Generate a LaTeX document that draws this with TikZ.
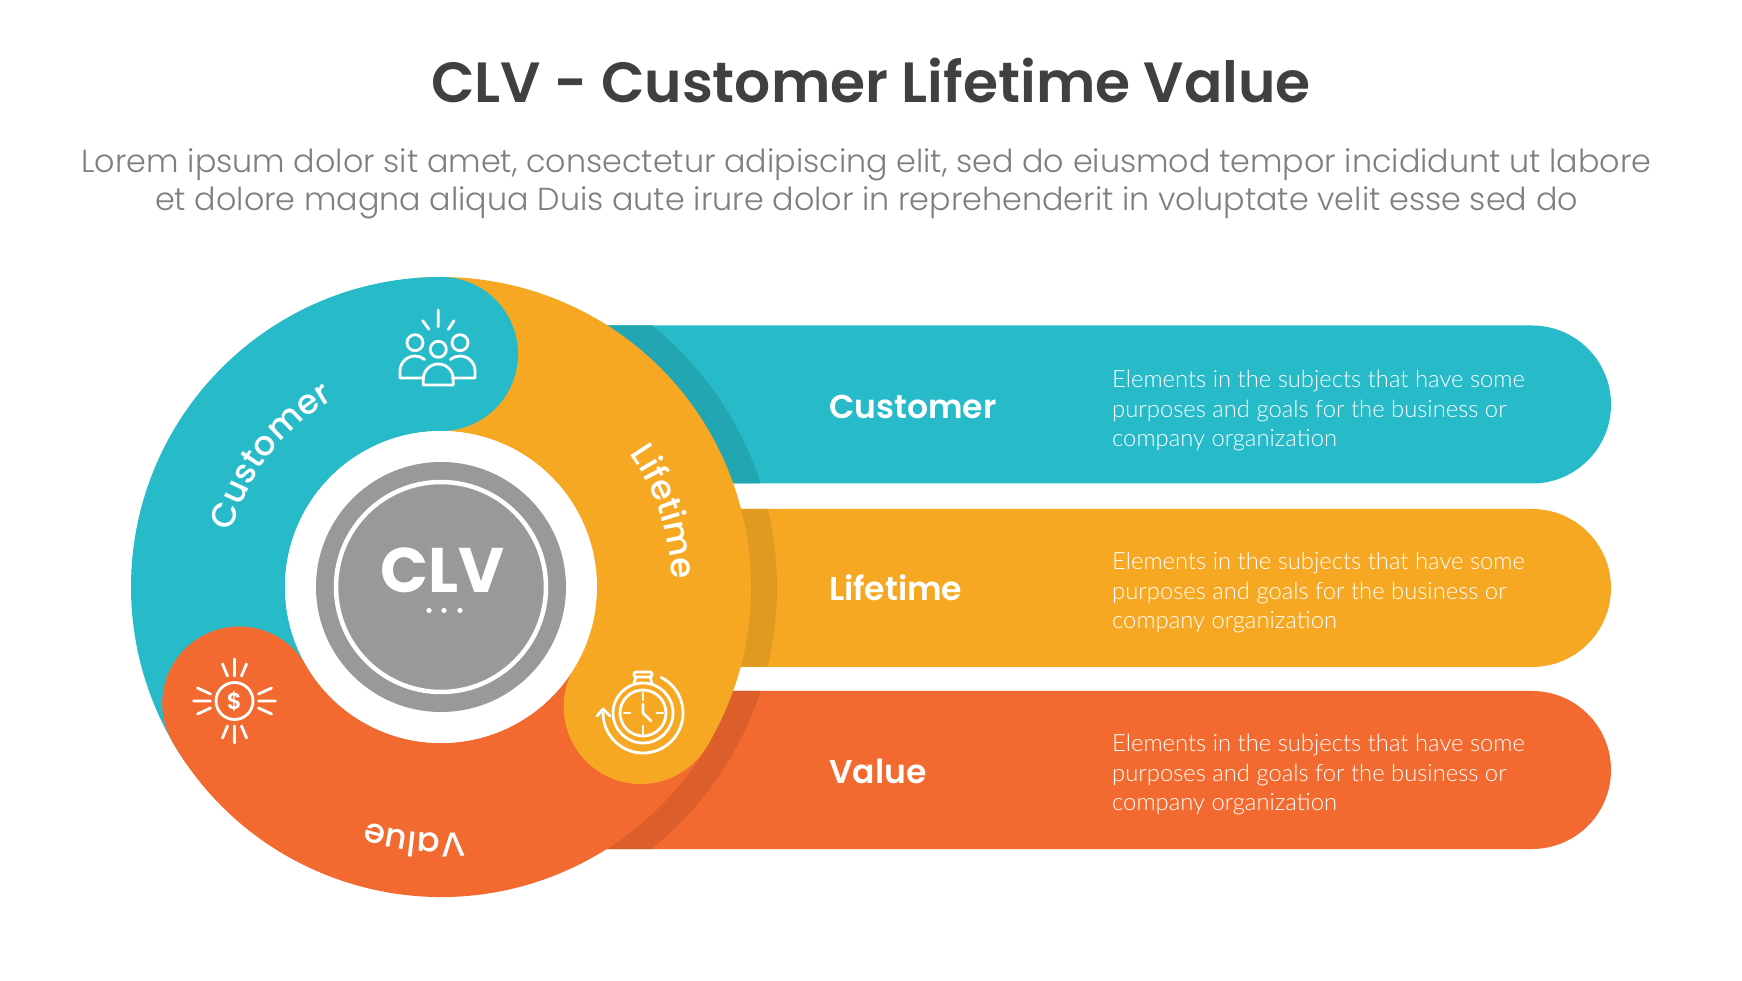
\documentclass[tikz,border=0pt]{standalone}
\usepackage{fontspec}
\setmainfont{Poppins}
\newfontfamily\poplight{Poppins}[UprightFont=* Light]
\newfontfamily\popmed{Poppins}[UprightFont=* Medium]
\newfontfamily\popsemi{Poppins}[UprightFont=* SemiBold]
\newfontfamily\latolight{Lato}[UprightFont=* Light]
\usetikzlibrary{decorations.text}
\definecolor{teal1}{HTML}{27BBC9}
\definecolor{teal2}{HTML}{22A6B2}
\definecolor{orange1}{HTML}{F7A823}
\definecolor{orange2}{HTML}{E09A22}
\definecolor{red1}{HTML}{F36A30}
\definecolor{red2}{HTML}{DC5F2B}
\definecolor{grey1}{HTML}{999999}
\definecolor{titlec}{HTML}{404040}
\definecolor{subc}{HTML}{7F7F7F}
\newcommand{\seg}[3]{\fill[#1] (#2:310) arc[start angle=#2,end angle=#3,radius=310pt] -- (#3:156) arc[start angle=#3,end angle=#2,radius=156pt] -- cycle;}
\newcommand{\headcap}[2]{\fill[#1] (#2:233) circle[radius=77pt];}
\newcommand{\barshape}[1]{(560,#1+79) -- (1532,#1+79) arc[start angle=90,end angle=-90,radius=79pt] -- (560,#1-79) -- cycle}
\newcommand{\ringfont}{\fontsize{34}{34}\popmed}
\tikzset{
  x=1pt,y=1pt,
  icon/.style={draw=white,line width=2.8pt,line cap=round,line join=round},
  bartitle/.style={anchor=west,text=white,font=\fontsize{33}{33}\popsemi,inner sep=0pt},
  bardesc/.style={anchor=west,text=white,font=\fontsize{23.8}{23.8}\latolight,inner sep=0pt,align=left},
  headline/.style={anchor=center,inner sep=0pt},
  ringtext/.style={decorate,decoration={text along path,text align=center,raise=0pt}}
}
\begin{document}
\begin{tikzpicture}
\useasboundingbox (0,0) rectangle (1742,980);
\fill[white] (0,0) rectangle (1742,980);
% header
\node[headline,text=titlec,font=\fontsize{56.7}{56.7}\popsemi] (title) at (871,899) {CLV - Customer Lifetime Value};
\node[headline,text=subc,font=\fontsize{31.77}{31.77}\poplight] (sub1) at (866.5,815.6) {Lorem ipsum dolor sit amet, consectetur adipiscing elit, sed do eiusmod tempor incididunt ut labore};
\node[headline,text=subc,font=\fontsize{31.77}{31.77}\poplight] (sub2) at (866.5,776.8) {et dolore magna aliqua Duis aute irure dolor in reprehenderit in voluptate velit esse sed do};
% bars
\fill[teal1] \barshape{575.5};
\fill[orange1] \barshape{392};
\fill[red1] \barshape{210};
\begin{scope}\clip \barshape{575.5}; \fill[teal2] (441,393) circle[radius=336pt];\end{scope}
\begin{scope}\clip \barshape{392}; \fill[orange2] (441,393) circle[radius=336pt];\end{scope}
\begin{scope}\clip \barshape{210}; \fill[red2] (441,393) circle[radius=336pt];\end{scope}
% ring
\begin{scope}[shift={(441,393)}]
\seg{orange1}{-31}{95}
\seg{teal1}{90}{215}
\headcap{teal1}{90}
\seg{red1}{210}{329}
\headcap{red1}{210}
\headcap{orange1}{-31}
\fill[white] (0,0) circle[radius=156pt];
\fill[grey1] (0,0) circle[radius=125pt];
\draw[white,line width=4.5pt] (0,0) circle[radius=105pt];
\node[inner sep=0pt,text=white,font=\fontsize{63}{63}\bfseries] (clv) at (1.5,17) {CLV};
\fill[white] (-12,-23.5) circle[radius=2.6pt] (3,-23.5) circle[radius=2.6pt] (19,-23.5) circle[radius=2.6pt];
\path[ringtext,decoration={text={|\ringfont\color{white}|Customer}}] (174.5:216) arc[start angle=174.5,end angle=110.5,radius=216pt];
\path[ringtext,decoration={text={|\ringfont\color{white}|Lifetime}}] (50.5:231) arc[start angle=50.5,end angle=-13.5,radius=231pt];
\path[ringtext,decoration={text={|\ringfont\color{white}|Value}}] (294:246.5) arc[start angle=294,end angle=234,radius=246.5pt];
\end{scope}
% people icon
\draw[icon] (438.3,670) -- (438.3,653.3) (422.7,659.3) -- (429,650.7) (454,659.3) -- (448.3,650.7);
\draw[icon] (415,637.3) circle[radius=8pt] (460,637.3) circle[radius=8pt] (438.3,630.7) circle[radius=8pt];
\draw[icon] (423.3,595) -- (423.3,601) arc[start angle=180,end angle=0,radius=15pt] -- (453.3,595) -- cycle;
\draw[icon] (423,602) -- (400,602) -- (400,609) arc[start angle=180,end angle=50,radius=15pt];
\draw[icon] (452,602) -- (475,602) -- (475,609) arc[start angle=0,end angle=130,radius=15pt];
% stopwatch icon
\begin{scope}[shift={(643,267)}]
\draw[icon] (0,0) circle[radius=30pt] (0,0) circle[radius=23pt];
\draw[icon] (-9,30) -- (-7,36) (9,30) -- (7,36);
\draw[icon,rounded corners=2pt] (-9,36) rectangle (9,41);
\draw[icon] (0,20) -- (0,13) (0,-13) -- (0,-21) (-19,0) -- (-13,0) (14,0) -- (20,0);
\draw[icon] (0,9) -- (0,0) -- (8,-8);
\draw[icon] (63:40) arc[start angle=63,end angle=-180,radius=40pt];
\draw[icon] (-46,-3) -- (-40,4) -- (-33,-3);
\end{scope}
% dollar icon
\begin{scope}[shift={(234.5,279)}]
\draw[icon] (0,0) circle[radius=18.5pt];
\node[inner sep=0pt,text=white,font=\fontsize{23}{23}\popsemi] (dollar) at (0,0) {\$};
\foreach \s in {1,-1}{
  \draw[icon] (0,\s*25) -- (0,\s*42) (-7,\s*25) -- (-12,\s*37) (7,\s*25) -- (12,\s*37);
  \draw[icon] (\s*24,0) -- (\s*41,0) (\s*24,7) -- (\s*37,13) (\s*24,-7) -- (\s*37,-13);
}
\end{scope}
% bar labels
\node[bartitle] (l1) at (829,573) {Customer};
\node[bartitle] (l2) at (829,392) {Lifetime};
\node[bartitle] (l3) at (829,209) {Value};
\foreach \n/\y in {a/599,b/417,c/235}{
  \node[bardesc] (d\n1) at (1112,\y) {Elements in the subjects that have some};
  \node[bardesc] (d\n2) at (1112,\y-30) {purposes and goals for the business or};
  \node[bardesc] (d\n3) at (1112,\y-59) {company organization};
}
\end{tikzpicture}
\end{document}
